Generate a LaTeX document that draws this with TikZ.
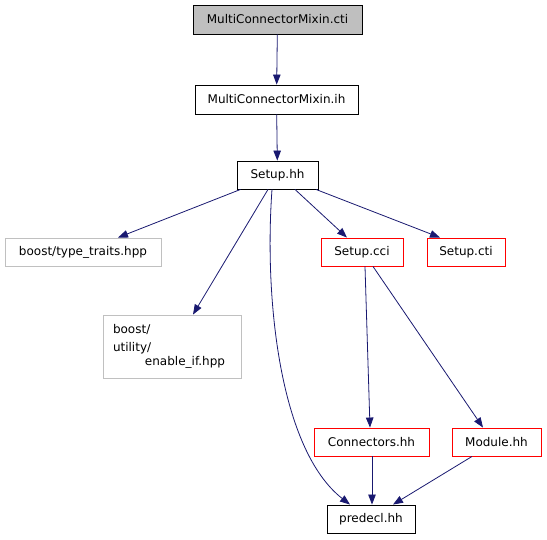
\documentclass[tikz,border=0pt]{standalone}
\usepackage{fontspec}
\setmainfont{DejaVu Sans}
\usetikzlibrary{arrows.meta}
\definecolor{edgeblue}{HTML}{191970}
\definecolor{boxgray}{HTML}{BFBFBF}
\definecolor{linegray}{HTML}{C0C0C0}
\tikzset{
  file/.style={draw=black, line width=0.9pt, fill=white, font=\fontsize{12}{14}\selectfont, inner sep=0pt, anchor=center},
  redfile/.style={file, draw=red},
  sysfile/.style={file, draw=linegray},
  dep/.style={draw=edgeblue, line width=0.8pt, -{Triangle[length=10pt,width=7.5pt]}},
}
\begin{document}
\begin{tikzpicture}[x=1pt,y=-1pt]
\useasboundingbox (0,0) rectangle (547,539);
\node[file, fill=boxgray, minimum width=169, minimum height=29] (cti) at (277.5,19.5) {MultiConnectorMixin.cti};
\node[file, minimum width=163, minimum height=29] (ih) at (276.5,99.5) {MultiConnectorMixin.ih};
\node[file, minimum width=81, minimum height=28] (setup) at (277.5,175) {Setup.hh};
\node[sysfile, minimum width=156, minimum height=28] (tt) at (83,252) {boost/type\_traits.hpp};
\node[redfile, minimum width=82, minimum height=28] (cci) at (362,252) {Setup.cci};
\node[redfile, minimum width=78, minimum height=28] (scti) at (466,252) {Setup.cti};
\node[sysfile, minimum width=138, minimum height=63, text width=118pt, align=left] (ei) at (172,346.5)
  {\fontsize{12}{17.5}\selectfont boost/\\utility/\\\hspace*{32pt}enable\_if.hpp};
\node[redfile, minimum width=115, minimum height=28] (conn) at (371.5,442) {Connectors.hh};
\node[redfile, minimum width=89, minimum height=28] (mod) at (496.5,442) {Module.hh};
\node[file, minimum width=88, minimum height=28] (pre) at (371,519) {predecl.hh};

\draw[dep] (cti) -- (ih);
\draw[dep] (ih) -- (setup);
\draw[dep] ([xshift=-37pt]setup.south) -- ([xshift=35pt]tt.north);
\draw[dep] ([xshift=-9.5pt]setup.south) -- ([xshift=21pt]ei.north);
\draw[dep] ([xshift=-5.5pt]setup.south) .. controls (264,300) and (280,450) .. ([xshift=-21pt]pre.north);
\draw[dep] ([xshift=17.5pt]setup.south) -- ([xshift=-15pt]cci.north);
\draw[dep] ([xshift=38.5pt]setup.south) -- ([xshift=-26pt]scti.north);
\draw[dep] ([xshift=3pt]cci.south) -- ([xshift=-1.5pt]conn.north);
\draw[dep] ([xshift=11pt]cci.south) -- ([xshift=-13.5pt]mod.north);
\draw[dep] ([xshift=0.5pt]conn.south) -- ([xshift=1pt]pre.north);
\draw[dep] ([xshift=-24.5pt]mod.south) -- ([xshift=22pt]pre.north);
\end{tikzpicture}
\end{document}
